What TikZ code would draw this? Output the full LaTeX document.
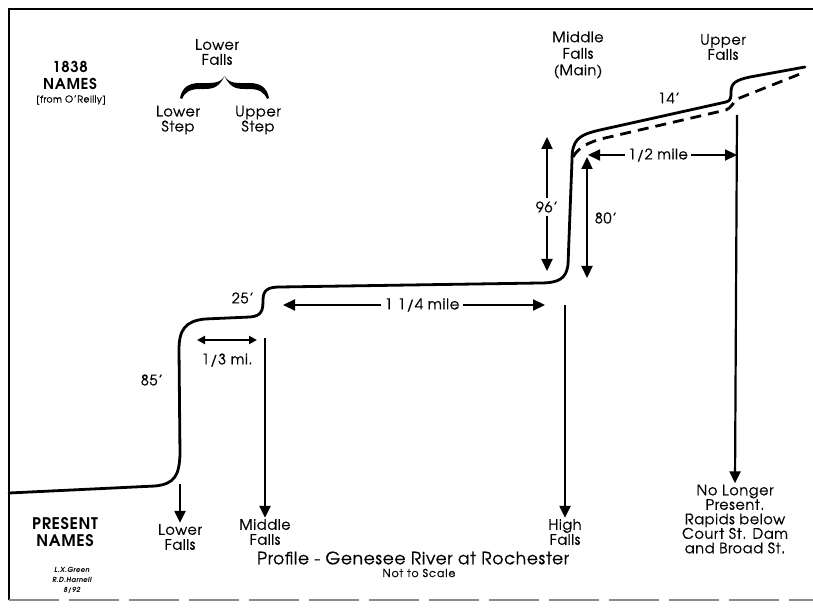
\documentclass[tikz,border=0pt]{standalone}
\usepackage{fontspec}
\setmainfont{texgyreadventor}[Extension=.otf, UprightFont=*-regular, BoldFont=*-bold, ItalicFont=*-italic, BoldItalicFont=*-bolditalic, UprightFeatures={FakeBold=0.7}, LetterSpace=4]
\usetikzlibrary{arrows.meta}
\tikzset{
  lbl/.style={font=\fontsize{14.5}{15}\selectfont, align=center, inner sep=1pt},
  dimlbl/.style={font=\fontsize{14.5}{16}\selectfont, inner sep=3pt},
  arr/.style={line width=2.2pt, -{Triangle[length=12pt,width=11pt]}},
  arrd/.style={line width=2.2pt, {Triangle[length=12pt,width=11pt]}-{Triangle[length=12pt,width=11pt]}},
  arrsm/.style={line width=2.2pt, {Triangle[length=8pt,width=8pt]}-{Triangle[length=8pt,width=8pt]}},
  river/.style={line width=2.8pt, line cap=round, line join=round},
  framel/.style={line width=2pt}
}
\begin{document}
\begin{tikzpicture}[x=1pt,y=-1pt]
\useasboundingbox (0,0) rectangle (813,609);
% frame
\draw[framel] (9,600) -- (9,9) -- (813,9);
\draw[line width=1.5pt, black!45, dash pattern=on 50pt off 10pt] (9,600) -- (813,600);

% river profile (solid)
\draw[river] (9,493) -- (155,486) .. controls (175,484) and (179,475) .. (180,455)
  -- (179,350) .. controls (179,330) and (185,321) .. (205,319) -- (250,317)
  .. controls (262,316) and (263,310) .. (263,300) .. controls (263,290) and (268,287) .. (280,287)
  -- (540,283) .. controls (560,283) and (566,278) .. (568,265)
  -- (572,160) .. controls (572,140) and (578,135) .. (600,130)
  -- (726,102) .. controls (731,101) and (731,97) .. (731,92)
  .. controls (731,83) and (736,80) .. (750,77) -- (805,67);
% former profile (dashed)
\draw[river, line cap=butt, dash pattern=on 11pt off 7pt] (573,157) .. controls (578,148) and (588,142) .. (605,138)
  -- (726,110) .. controls (731,108) and (733,103) .. (737,99) -- (805,72);

% 1838 names
\node[font=\fontsize{15}{16}\selectfont\bfseries, inner sep=0pt] (t1838) at (70,67) {1838};
\node[font=\fontsize{15}{16}\selectfont\bfseries, inner sep=0pt] (tnames) at (70,84) {NAMES};
\node[font=\fontsize{9.5}{10}\selectfont, inner sep=0pt] (tfrom) at (71,100) {[from O'Reilly]};

\node[lbl] (lowerfallsold) at (217,52) {Lower\\Falls};
\fill (180,98) .. controls (182,88) and (188,83) .. (200,83) .. controls (212,83) and (220,84) .. (224.5,76)
  .. controls (218,90) and (210,89) .. (200,89) .. controls (190,89) and (185,92) .. (182,99) -- cycle;
\fill (269,98) .. controls (267,88) and (261,83) .. (249,83) .. controls (237,83) and (229,84) .. (224.5,76)
  .. controls (231,90) and (239,89) .. (249,89) .. controls (259,89) and (264,92) .. (267,99) -- cycle;
\node[lbl] (lowerstep) at (178,120) {Lower\\Step};
\node[lbl] (upperstep) at (258,120) {Upper\\Step};

\node[lbl, font=\fontsize{14.5}{16.5}\selectfont] (middleold) at (578,55) {Middle\\Falls\\(Main)};
\node[lbl] (upperold) at (723,47) {Upper\\Falls};

% heights
\node[dimlbl] (l14) at (669,98) {14'};
\node[dimlbl] (l25) at (243,298) {25'};
\node[dimlbl] (l85) at (152,380) {85'};

\coordinate (c96t) at (547,137);
\coordinate (c96b) at (547,271);
\node[dimlbl] (l96) at (547,207) {96'};
\draw[arr] (l96.north) -- (c96t);
\draw[arr] (l96.south) -- (c96b);

\coordinate (c80t) at (587,157);
\coordinate (c80b) at (587,278);
\draw[arrd] (c80t) -- (c80b);
\node[dimlbl] (l80) at (606,218) {80'};

% distances
\node[dimlbl] (lhalf) at (658,155) {1/2 mile};
\coordinate (chalfl) at (588,155);
\coordinate (chalfr) at (737,155);
\draw[arr] (lhalf.west) -- (chalfl);
\draw[arr] (lhalf.east) -- (chalfr);

\node[dimlbl, font=\fontsize{15}{16}\selectfont] (l114) at (422,305) {1 1/4 mile};
\coordinate (c114l) at (283,305);
\coordinate (c114r) at (545,305);
\draw[arr] (l114.west) -- (c114l);
\draw[arr] (l114.east) -- (c114r);

\coordinate (c13l) at (197,340);
\coordinate (c13r) at (257,340);
\draw[arrsm] (c13l) -- (c13r);
\node[dimlbl] (l13) at (227,360) {1/3 mi.};

% present names pointers
\node[lbl] (lowerfalls) at (180,537) {Lower\\Falls};
\coordinate (clf) at (180,484);
\draw[arr] (clf) -- (lowerfalls.north);

\node[lbl] (middlefalls) at (265,532) {Middle\\Falls};
\coordinate (cmf) at (265,338);
\draw[arr] (cmf) -- (middlefalls.north);

\node[lbl] (highfalls) at (565,532) {High\\Falls};
\coordinate (chf) at (565,305);
\draw[arr] (chf) -- (highfalls.north);

\node[lbl, font=\fontsize{14.5}{14.5}\selectfont] (nolonger) at (735,519) {No Longer\\Present.\\Rapids below\\Court St. Dam\\and Broad St.};
\coordinate (cuf) at (737,115);
\draw[arr] (cuf) -- (nolonger.north);

\node[font=\fontsize{16}{17}\selectfont\bfseries, align=center, inner sep=0pt] (present) at (65,532) {PRESENT\\NAMES};
\node[font=\fontsize{7}{10}\selectfont\bfseries\itshape, align=center, inner sep=0pt] (credit) at (72,580) {L.X.Green\\R.D.Harnell\\8/92};

\node[font=\fontsize{17}{18}\selectfont, inner sep=0pt] (title) at (413,558) {Profile - Genesee River at Rochester};
\node[font=\fontsize{11}{12}\selectfont\addfontfeatures{LetterSpace=8}, inner sep=0pt] (subtitle) at (419,573) {Not to Scale};
\end{tikzpicture}
\end{document}
